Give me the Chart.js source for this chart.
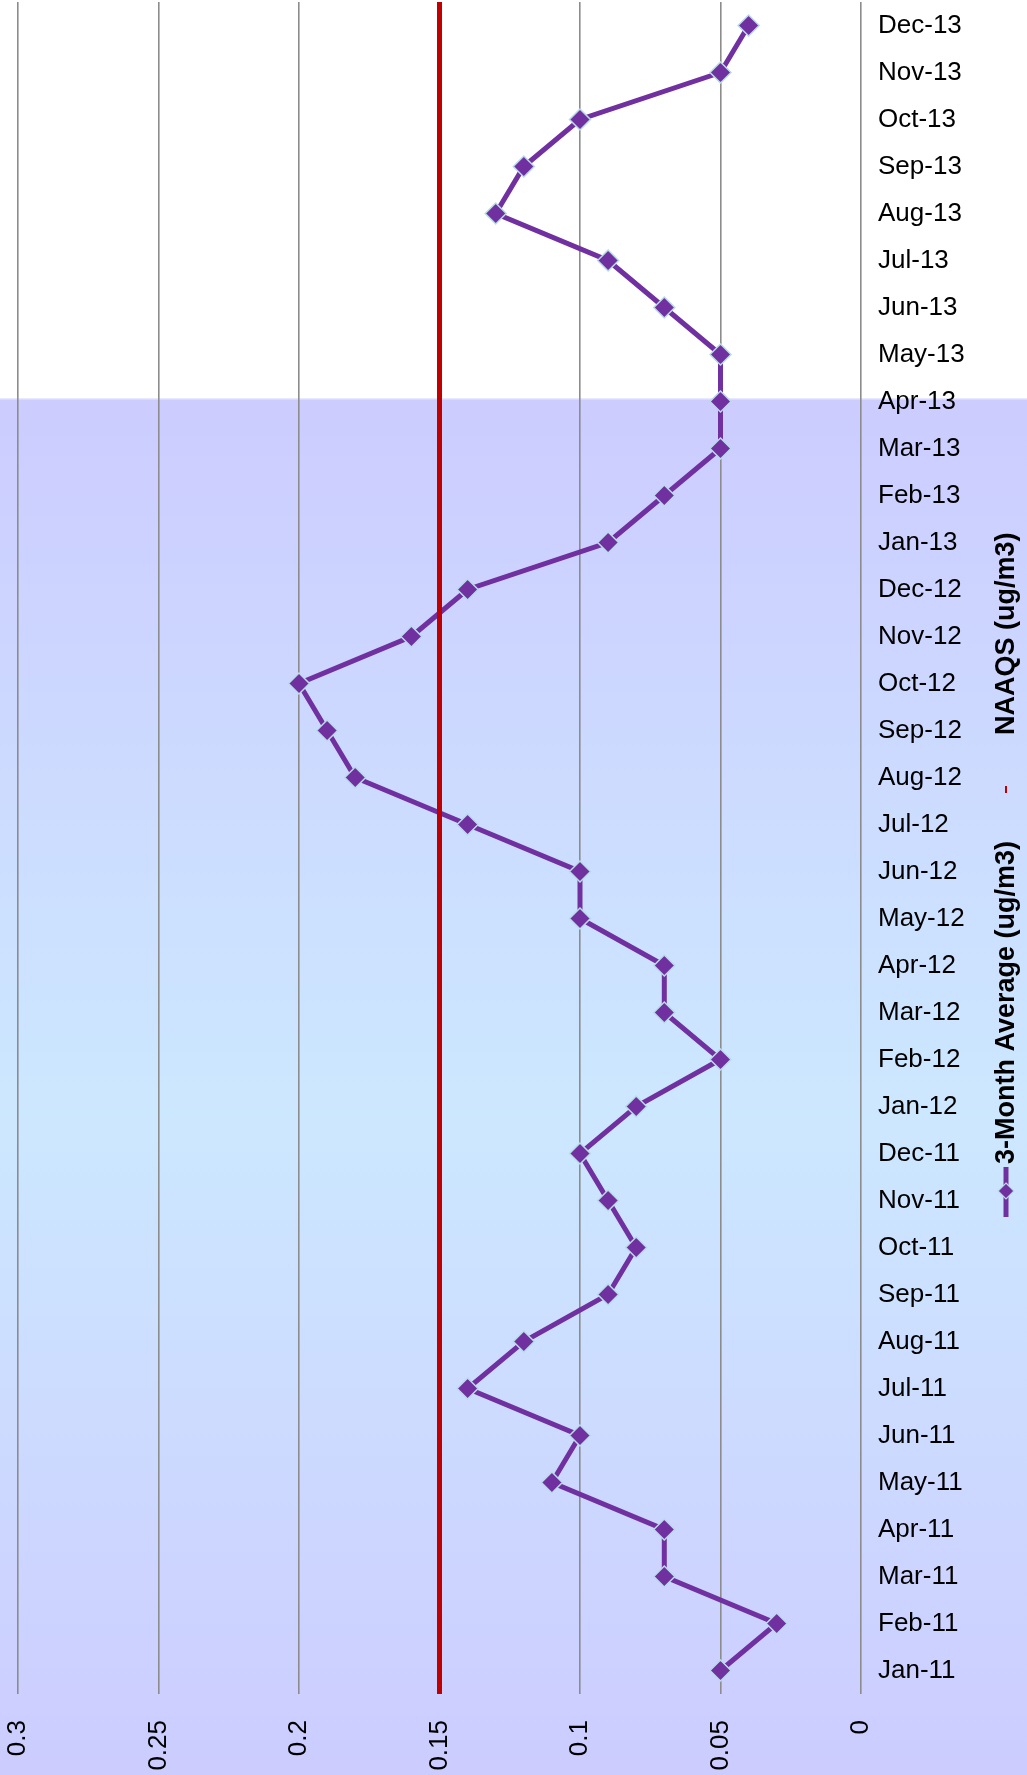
<!DOCTYPE html>
<html>
<head>
<meta charset="utf-8">
<script src="https://cdn.jsdelivr.net/npm/chart.js@4/dist/chart.umd.min.js"></script>
<style>
  html, body { margin: 0; padding: 0; background: #ffffff; }
  #wrap { width: 1027px; height: 1775px; position: relative; }
</style>
</head>
<body>
<div id="wrap"><canvas id="c" width="1027" height="1775"></canvas></div>
<script>
const categories = ['Jan-11','Feb-11','Mar-11','Apr-11','May-11','Jun-11','Jul-11','Aug-11','Sep-11','Oct-11','Nov-11','Dec-11',
  'Jan-12','Feb-12','Mar-12','Apr-12','May-12','Jun-12','Jul-12','Aug-12','Sep-12','Oct-12','Nov-12','Dec-12',
  'Jan-13','Feb-13','Mar-13','Apr-13','May-13','Jun-13','Jul-13','Aug-13','Sep-13','Oct-13','Nov-13','Dec-13'];
const avgValues = [0.05,0.03,0.07,0.07,0.11,0.10,0.14,0.12,0.09,0.08,0.09,0.10,
  0.08,0.05,0.07,0.07,0.10,0.10,0.14,0.18,0.19,0.20,0.16,0.14,
  0.09,0.07,0.05,0.05,0.05,0.07,0.09,0.13,0.12,0.10,0.05,0.04];
const naaqsValues = [0.15,0.15,0.15,0.15,0.15,0.15,0.15,0.15,0.15,0.15,0.15,0.15,
  0.15,0.15,0.15,0.15,0.15,0.15,0.15,0.15,0.15,0.15,0.15,0.15,
  0.15,0.15,0.15,0.15,0.15,0.15,0.15,0.15,0.15,0.15,0.15,0.15];
const xTickLabels = ['0','0.05','0.1','0.15','0.2','0.25','0.3'];
const seriesNames = ['3-Month Average (ug/m3)','NAAQS (ug/m3)'];
const shadeFromCategory = 'Apr-13';

const FONT = '"Liberation Sans", Arial, sans-serif';
const PURPLE = '#7030a0';
const RED = '#c00000';

const bgPlugin = {
  id: 'bg',
  beforeDraw(chart) {
    const ctx = chart.ctx;
    const W = chart.width, H = chart.height;
    ctx.save();
    ctx.fillStyle = '#ffffff';
    ctx.fillRect(0, 0, W, H);
    const ys = chart.scales.y;
    const top = ys.getPixelForValue(categories.indexOf(shadeFromCategory)) - 3;
    const g = ctx.createLinearGradient(0, top, 0, H);
    g.addColorStop(0, '#ccccff');
    g.addColorStop(0.52, '#cce8ff');
    g.addColorStop(1, '#ccccff');
    ctx.fillStyle = g;
    ctx.fillRect(0, top, W, H - top);
    ctx.fillStyle = 'rgba(235,235,255,0.9)';
    ctx.fillRect(0, top, W, 1);
    ctx.restore();
  }
};

const legendPlugin = {
  id: 'rotLegend',
  afterDraw(chart) {
    const ctx = chart.ctx;
    ctx.save();
    const cx = 1006;
    // series 1 marker
    ctx.strokeStyle = PURPLE;
    ctx.lineWidth = 5;
    ctx.beginPath();
    ctx.moveTo(cx, 1167);
    ctx.lineTo(cx, 1217);
    ctx.stroke();
    ctx.fillStyle = PURPLE;
    ctx.strokeStyle = '#b8dce6';
    ctx.lineWidth = 1.2;
    ctx.beginPath();
    const r = 8;
    ctx.moveTo(cx, 1191 - r); ctx.lineTo(cx + r, 1191); ctx.lineTo(cx, 1191 + r); ctx.lineTo(cx - r, 1191); ctx.closePath();
    ctx.fill(); ctx.stroke();
    // series 2 marker
    ctx.strokeStyle = RED;
    ctx.lineWidth = 2;
    ctx.beginPath();
    ctx.moveTo(cx, 786); ctx.lineTo(cx, 793);
    ctx.stroke();
    // texts
    ctx.fillStyle = '#000000';
    ctx.font = 'bold 27px ' + FONT;
    ctx.textAlign = 'left';
    ctx.textBaseline = 'middle';
    const drawRot = (text, x, y) => {
      ctx.save();
      ctx.translate(x, y);
      ctx.rotate(-Math.PI / 2);
      ctx.fillText(text, 0, 1);
      ctx.restore();
    };
    drawRot(seriesNames[0], cx, 1164);
    drawRot(seriesNames[1], cx, 735);
    ctx.restore();
  }
};

new Chart(document.getElementById('c'), {
  type: 'line',
  data: {
    labels: categories,
    datasets: [
      {
        label: seriesNames[0],
        data: avgValues,
        yAxisID: 'y',
        borderColor: PURPLE,
        borderWidth: 5,
        pointStyle: 'rectRot',
        pointRadius: 10.5,
        pointBackgroundColor: PURPLE,
        pointBorderColor: '#b8dce6',
        pointBorderWidth: 1.5,
        tension: 0,
        clip: false,
        order: 2
      },
      {
        label: seriesNames[1],
        data: naaqsValues,
        yAxisID: 'y2',
        borderColor: RED,
        borderWidth: 5,
        pointRadius: 0,
        tension: 0,
        order: 1
      }
    ]
  },
  options: {
    indexAxis: 'y',
    responsive: false,
    animation: false,
    devicePixelRatio: 1,
    layout: { autoPadding: false, padding: { top: 2, right: 0, left: 0, bottom: 0 } },
    plugins: { legend: { display: false }, tooltip: { enabled: false } },
    scales: {
      x: {
        type: 'linear',
        position: 'bottom',
        min: 0,
        max: 0.3,
        reverse: true,
        grid: { color: '#8c8c8c', lineWidth: 1.6, drawTicks: false },
        border: { display: false },
        ticks: {
          stepSize: 0.05,
          minRotation: 90,
          maxRotation: 90,
          padding: 26,
          color: '#000000',
          font: { family: FONT, size: 26 },
          callback: (v) => xTickLabels[Math.round(v / 0.05)]
        },
        afterFit(scale) { scale.height = 81; scale.paddingLeft = 18; scale.paddingRight = 0; }
      },
      y: {
        type: 'category',
        position: 'right',
        reverse: true,
        offset: true,
        grid: { display: false, drawTicks: false },
        border: { display: false },
        ticks: {
          padding: 17,
          crossAlign: 'near',
          color: '#000000',
          autoSkip: false,
          font: { family: FONT, size: 26 }
        },
        afterFit(scale) { scale.width = 166; scale.paddingTop = 0; scale.paddingBottom = 0; }
      },
      y2: {
        type: 'category',
        position: 'right',
        reverse: true,
        offset: false,
        display: false
      }
    }
  },
  plugins: [bgPlugin, legendPlugin]
});
</script>
</body>
</html>
